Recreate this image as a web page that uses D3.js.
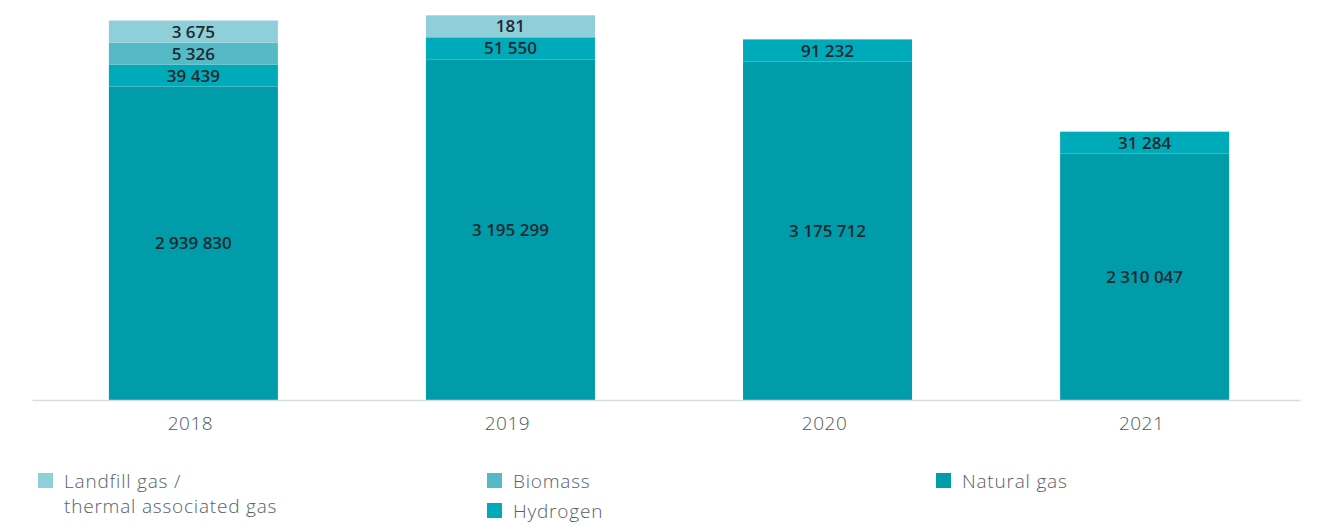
<!DOCTYPE html>
<html>
<head>
<meta charset="utf-8">
<script src="https://cdn.jsdelivr.net/npm/d3@7"></script>
<style>
  body { margin: 0; background: #fff; }
  svg { display: block; font-family: "Open Sans", "Lato", sans-serif; }
</style>
</head>
<body>
<script>
// chart data
var years = ["2018", "2019", "2020", "2021"];
var landfillGas = [3675, 181, 0, 0];
var biomass = [5326, 0, 0, 0];
var hydrogen = [39439, 51550, 91232, 31284];
var naturalGas = [2939830, 3195299, 3175712, 2310047];

var seriesNames = ["Natural gas", "Hydrogen", "Biomass", "Landfill gas / thermal associated gas"];
var seriesValues = [naturalGas, hydrogen, biomass, landfillGas];
var colors = ["#009caa", "#00abb9", "#55bac6", "#8ecfd9"];

var width = 1319, height = 524;
var margin = {top: 15, left: 32, right: 19};
var baseline = 400;
var minSeg = 22; // small segments get enough room for their label

var svg = d3.select("body").append("svg")
  .attr("width", width)
  .attr("height", height);

var x = d3.scaleBand()
  .domain(years)
  .range([margin.left, width - margin.right])
  .paddingInner(0.467)
  .paddingOuter(0.233);

var y = d3.scaleLinear()
  .domain([0, d3.max(naturalGas) * 1.13])
  .range([baseline, margin.top]);

var fmt = function(v) { return d3.format(",")(v).replace(/,/g, " "); };

// build stacked segments, bottom up
var segs = [];
years.forEach(function(yr, i) {
  var top = baseline;
  seriesValues.forEach(function(vals, s) {
    var v = vals[i];
    if (!v) return;
    var h = Math.max(baseline - y(v), minSeg);
    segs.push({year: yr, value: v, s: s, y0: top - h, y1: top});
    top -= h;
  });
});

var g = svg.append("g").attr("transform", "translate(3,0)");

g.selectAll("rect.seg")
  .data(segs)
  .enter().append("rect")
  .attr("class", "seg")
  .attr("x", function(d) { return x(d.year); })
  .attr("width", x.bandwidth())
  .attr("y", function(d) { return d.y0; })
  .attr("height", function(d) { return d.y1 - d.y0; })
  .attr("fill", function(d) { return colors[d.s]; });

g.selectAll("text.val")
  .data(segs)
  .enter().append("text")
  .attr("class", "val")
  .attr("x", function(d) { return x(d.year) + x.bandwidth() / 2; })
  .attr("y", function(d) { return (d.y0 + d.y1) / 2; })
  .attr("dy", "0.36em")
  .attr("text-anchor", "middle")
  .attr("font-size", "17px")
  .attr("font-weight", 600)
  .attr("fill", "#1e2a30")
  .text(function(d) { return fmt(d.value); });

// x axis
var xAxis = svg.append("g")
  .attr("transform", "translate(0," + baseline + ")")
  .call(d3.axisBottom(x).tickSize(0).tickPadding(17));
xAxis.select(".domain").attr("stroke", "#d6dee4").attr("stroke-width", 1.5);
xAxis.selectAll("text")
  .attr("font-family", "'Open Sans', sans-serif")
  .attr("font-size", "19px")
  .attr("font-weight", 300)
  .attr("letter-spacing", "0.5px")
  .attr("fill", "#4b5862");

// legend
var legendItems = [
  {s: 3, x: 38, y: 473, lines: ["Landfill gas /", "thermal associated gas"]},
  {s: 2, x: 487, y: 473, lines: ["Biomass"]},
  {s: 1, x: 487, y: 503, lines: ["Hydrogen"]},
  {s: 0, x: 936, y: 473, lines: ["Natural gas"]}
];

var leg = svg.selectAll("g.leg")
  .data(legendItems)
  .enter().append("g")
  .attr("class", "leg")
  .attr("transform", function(d) { return "translate(" + d.x + "," + d.y + ")"; });

leg.append("rect")
  .attr("width", 15)
  .attr("height", 15)
  .attr("fill", function(d) { return colors[d.s]; });

leg.selectAll("text")
  .data(function(d) { return d.lines; })
  .enter().append("text")
  .attr("x", 26)
  .attr("y", function(d, k) { return 15 + k * 25; })
  .attr("font-size", "19px")
  .attr("font-weight", 300)
  .attr("letter-spacing", "0.8px")
  .attr("fill", "#56616a")
  .text(function(d) { return d; });
</script>
</body>
</html>
